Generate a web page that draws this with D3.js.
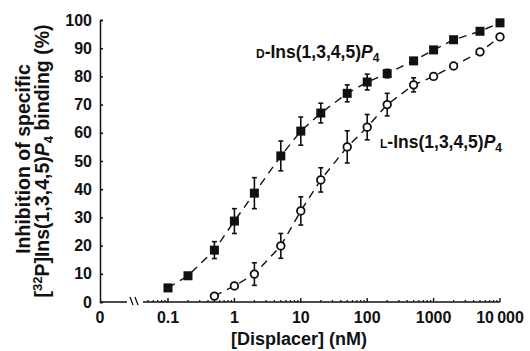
<!DOCTYPE html>
<html><head><meta charset="utf-8">
<script src="https://cdn.jsdelivr.net/npm/d3@7"></script>
<style>body{margin:0;background:#fff}svg{display:block}text{font-family:"Liberation Sans",Arial,sans-serif;font-weight:bold;fill:#111}</style>
</head><body>
<script>
const concD = [0.1,0.2,0.5,1,2,5,10,20,50,100,200,500,1000,2000,5000,10000];
const valD  = [5,9.3,18.4,28.7,38.6,51.8,60.6,67,74,78,81,85.5,89.4,93,96,99];
const errD  = [0,1,3,4.4,5.5,5.3,5,3.5,3,2.8,1.5,0,0,0,0,0];
const concL = [0.5,1,2,5,10,20,50,100,200,500,1000,2000,5000,10000];
const valL  = [2.1,5.7,9.9,19.9,32.3,43.3,55,62,70,77,80,83.7,88.7,94];
const errL  = [0,1,4,4.4,5,4.3,5.7,4.5,4,2.5,1,0,0,0];
const yTicks = [0,10,20,30,40,50,60,70,80,90,100];
const xTicks = [0.1,1,10,100,1000,10000];
const xTickLabels = ["0.1","1","10","100","1000","10\u2009000"];

const W=530,H=351;
const svg=d3.select("body").append("svg").attr("width",W).attr("height",H);
const x=d3.scaleLog().domain([0.1,10000]).range([168,500]);
const y=d3.scaleLinear().domain([0,100]).range([302,20]);
const x0=100;
const g=svg.append("g");

// y axis
const ya=d3.axisLeft(y).tickValues(yTicks).tickSize(-3).tickPadding(8);
const yg=g.append("g").attr("transform",`translate(${x0},0)`).call(ya);
yg.select(".domain").attr("stroke","#111").attr("stroke-width",1.5);
yg.selectAll(".tick line").attr("stroke","#111").attr("stroke-width",1.5);
yg.selectAll(".tick text").attr("font-size",16).attr("font-weight","bold").attr("fill","#111").attr("font-family","Liberation Sans, Arial");

// x axis line with break
g.append("line").attr("x1",x0).attr("x2",127).attr("y1",y(0)).attr("y2",y(0)).attr("stroke","#111").attr("stroke-width",1.5);
g.append("line").attr("x1",143).attr("x2",x(10000)).attr("y1",y(0)).attr("y2",y(0)).attr("stroke","#111").attr("stroke-width",1.5);
[130,135].forEach(bx=>g.append("line").attr("x1",bx).attr("x2",bx+3).attr("y1",y(0)-5).attr("y2",y(0)+3).attr("stroke","#111").attr("stroke-width",1.3));
// minor ticks
const minor=[];
[0.01,0.1,1,10,100,1000].forEach(d=>{for(let k=2;k<=9;k++){const v=d*k; if(v>=0.05&&v<10000) minor.push(v);}});
g.selectAll(".mt").data(minor).enter().append("line").attr("x1",d=>x(d)).attr("x2",d=>x(d)).attr("y1",y(0)).attr("y2",y(0)-2).attr("stroke","#111").attr("stroke-width",1.2);
g.selectAll(".Mt").data(xTicks).enter().append("line").attr("x1",d=>x(d)).attr("x2",d=>x(d)).attr("y1",y(0)).attr("y2",y(0)-4).attr("stroke","#111").attr("stroke-width",1.4);
g.selectAll(".xl").data(xTicks).enter().append("text").attr("x",d=>x(d)).attr("y",323).attr("text-anchor","middle").attr("font-size",16).text((d,i)=>xTickLabels[i]);
g.append("text").attr("x",x0).attr("y",323).attr("text-anchor","middle").attr("font-size",16).text("0");

// axis titles
g.append("text").attr("x",299).attr("y",345).attr("text-anchor","middle").attr("font-size",18).text("[Displacer] (nM)");
const yt=g.append("text").attr("transform","translate(30,159) rotate(-90)").attr("text-anchor","middle").attr("font-size",19.5);
yt.append("tspan").attr("x",0).attr("dy",0).text("Inhibition of specific");
const t2=g.append("text").attr("transform","translate(49,161) rotate(-90)").attr("text-anchor","middle").attr("font-size",19.5);
t2.append("tspan").text("[");
t2.append("tspan").attr("font-size",13).attr("dy",-7).text("32");
t2.append("tspan").attr("dy",7).text("P]Ins(1,3,4,5)");
t2.append("tspan").attr("font-style","italic").text("P");
t2.append("tspan").attr("font-size",13).attr("dy",4).text("4");
t2.append("tspan").attr("dy",-4).text(" binding (%)");

function series(conc,val,err,sym){
  const pts=conc.map((c,i)=>({c,v:val[i],e:err[i]}));
  const line=d3.line().x(d=>x(d.c)).y(d=>y(d.v));
  g.append("path").datum(pts).attr("d",line).attr("fill","none").attr("stroke","#111").attr("stroke-width",1.4).attr("stroke-dasharray","8,6");
  const eb=g.selectAll(null).data(pts.filter(d=>d.e>0)).enter().append("g");
  eb.append("line").attr("x1",d=>x(d.c)).attr("x2",d=>x(d.c)).attr("y1",d=>y(d.v+d.e)).attr("y2",d=>y(d.v-d.e)).attr("stroke","#111").attr("stroke-width",1.6);
  eb.append("line").attr("x1",d=>x(d.c)-2.5).attr("x2",d=>x(d.c)+2.5).attr("y1",d=>y(d.v+d.e)).attr("y2",d=>y(d.v+d.e)).attr("stroke","#111").attr("stroke-width",1.6);
  eb.append("line").attr("x1",d=>x(d.c)-2.5).attr("x2",d=>x(d.c)+2.5).attr("y1",d=>y(d.v-d.e)).attr("y2",d=>y(d.v-d.e)).attr("stroke","#111").attr("stroke-width",1.6);
  if(sym==="sq"){
    g.selectAll(null).data(pts).enter().append("rect").attr("x",d=>x(d.c)-4.5).attr("y",d=>y(d.v)-4.5).attr("width",9).attr("height",9).attr("fill","#111");
  } else {
    g.selectAll(null).data(pts).enter().append("circle").attr("cx",d=>x(d.c)).attr("cy",d=>y(d.v)).attr("r",3.8).attr("fill","#fff").attr("stroke","#111").attr("stroke-width",1.8);
  }
}
series(concD,valD,errD,"sq");
series(concL,valL,errL,"ci");

function label(xp,yp,pre){
  const t=g.append("text").attr("x",xp).attr("y",yp).attr("font-size",17.5);
  t.append("tspan").attr("font-size",12).text(pre);
  t.append("tspan").text("-Ins(1,3,4,5)");
  t.append("tspan").attr("font-style","italic").text("P");
  t.append("tspan").attr("font-size",12).attr("dy",4).text("4");
}
label(256,58,"D");
label(380,148,"L");
</script>
</body></html>
